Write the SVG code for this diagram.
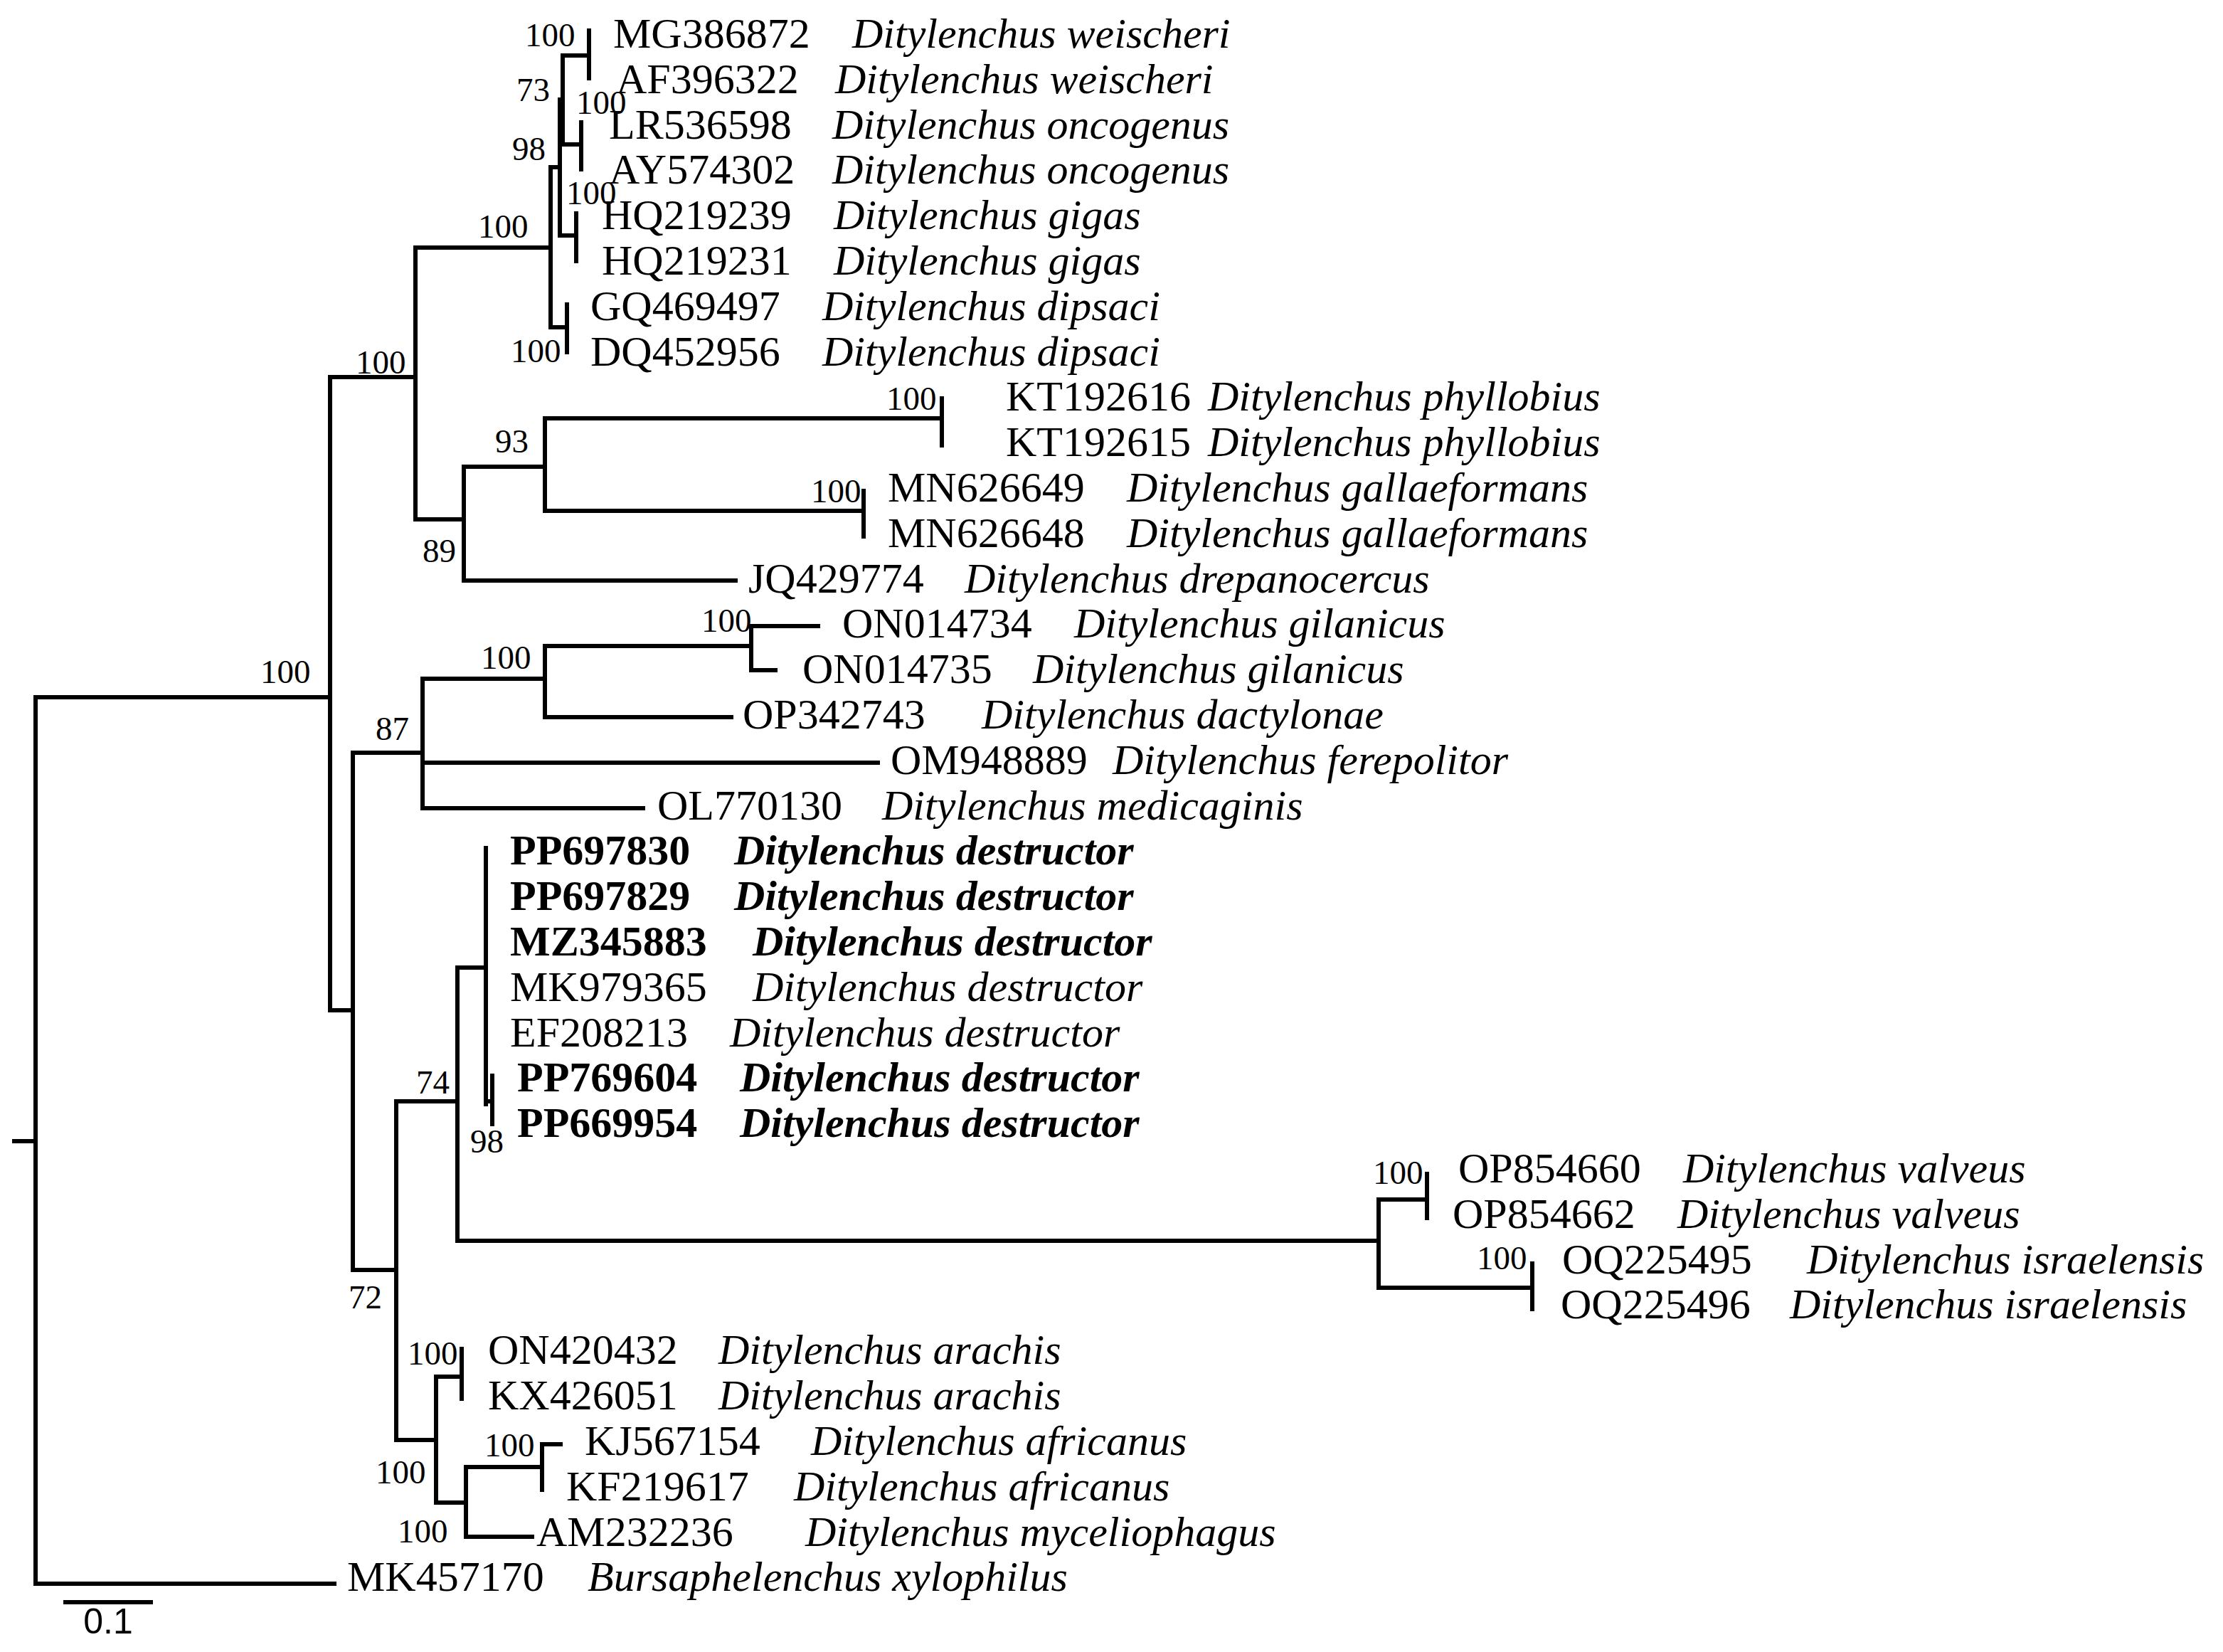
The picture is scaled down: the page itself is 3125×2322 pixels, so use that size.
<svg xmlns="http://www.w3.org/2000/svg" width="3125" height="2322" viewBox="0 0 3125 2322">
<style>
.t{font-family:"Liberation Serif",serif;font-size:60px;fill:#000}
.i{font-style:italic}
.b{font-weight:bold}
.l{font-family:"Liberation Serif",serif;font-size:47px;fill:#000}
.br{fill:none;stroke:#000;stroke-width:6;stroke-linecap:square}
</style>
<rect width="3125" height="2322" fill="#fff"/>
<g id="connectors" class="br">
<path d="M20,1604H50M50,980V2226H470"/>
<path d="M50,980H464M464,530V1420"/>
<path d="M464,530H584M584,348V730"/>
<path d="M584,348H774M774,235V460M774,235H787M787,140V331M787,140H791M791,78V203M791,78H828M828,43V110M791,203H817M817,172V238M787,331H810M810,300V367M774,460H797M797,428V495"/>
<path d="M584,730H652M652,656V816M652,656H766M766,588V718M766,588H1324M1324,560V626M766,718H1214M1214,690V754M652,816H1034"/>
<path d="M464,1420H496M496,1058V1785"/>
<path d="M496,1058H594M594,954V1136M594,954H766M766,908V1008M766,908H1056M1056,880V942M1056,880H1150M1056,942H1090M766,1008H1028M594,1072H1234M594,1136H904"/>
<path d="M496,1785H557M557,1548V2024"/>
<path d="M557,1548H643M643,1360V1744M643,1360H683M683,1192V1552M683,1548H692M692,1512V1580"/>
<path d="M643,1744H1938M1938,1686V1810M1938,1686H2006M2006,1650V1712M1938,1810H2154M2154,1776V1840"/>
<path d="M557,2024H613M613,1935V2112M613,1935H649M649,1896V1966M613,2112H655M655,2062V2160M655,2062H762M762,2030V2094M762,2030H788M655,2160H748"/>
<path d="M92,2252H212"/>
</g>
<g id="support">
<text class="l" x="738" y="65">100</text>
<text class="l" x="726" y="142">73</text>
<text class="l" x="810" y="160">100</text>
<text class="l" x="720" y="225">98</text>
<text class="l" x="796" y="287">100</text>
<text class="l" x="672" y="334">100</text>
<text class="l" x="718" y="509">100</text>
<text class="l" x="500" y="525">100</text>
<text class="l" x="1246" y="576">100</text>
<text class="l" x="1140" y="706">100</text>
<text class="l" x="696" y="636">93</text>
<text class="l" x="594" y="790">89</text>
<text class="l" x="986" y="888">100</text>
<text class="l" x="676" y="940">100</text>
<text class="l" x="528" y="1040">87</text>
<text class="l" x="366" y="960">100</text>
<text class="l" x="585" y="1537">74</text>
<text class="l" x="661" y="1620">98</text>
<text class="l" x="1930" y="1664">100</text>
<text class="l" x="2076" y="1784">100</text>
<text class="l" x="490" y="1839">72</text>
<text class="l" x="573" y="1918">100</text>
<text class="l" x="681" y="2047">100</text>
<text class="l" x="528" y="2085">100</text>
<text class="l" x="559" y="2168">100</text>
<text x="152" y="2296" text-anchor="middle" style="font-family:'Liberation Sans Narrow','Liberation Sans',sans-serif;font-size:50px">0.1</text>
</g>
<g id="tips">
<g id="t0"><text class="t" x="862" y="67">MG386872</text><text class="t i" x="1198" y="67">Ditylenchus weischeri</text></g>
<g id="t1"><text class="t" x="866" y="131">AF396322</text><text class="t i" x="1174" y="131">Ditylenchus weischeri</text></g>
<g id="t2"><text class="t" x="856" y="195">LR536598</text><text class="t i" x="1170" y="195">Ditylenchus oncogenus</text></g>
<g id="t3"><text class="t" x="856" y="258">AY574302</text><text class="t i" x="1170" y="258">Ditylenchus oncogenus</text></g>
<g id="t4"><text class="t" x="846" y="322">HQ219239</text><text class="t i" x="1172" y="322">Ditylenchus gigas</text></g>
<g id="t5"><text class="t" x="846" y="386">HQ219231</text><text class="t i" x="1172" y="386">Ditylenchus gigas</text></g>
<g id="t6"><text class="t" x="830" y="450">GQ469497</text><text class="t i" x="1156" y="450">Ditylenchus dipsaci</text></g>
<g id="t7"><text class="t" x="830" y="514">DQ452956</text><text class="t i" x="1156" y="514">Ditylenchus dipsaci</text></g>
<g id="t8"><text class="t" x="1414" y="577">KT192616</text><text class="t i" x="1698" y="577">Ditylenchus phyllobius</text></g>
<g id="t9"><text class="t" x="1414" y="641">KT192615</text><text class="t i" x="1698" y="641">Ditylenchus phyllobius</text></g>
<g id="t10"><text class="t" x="1248" y="705">MN626649</text><text class="t i" x="1584" y="705">Ditylenchus gallaeformans</text></g>
<g id="t11"><text class="t" x="1248" y="769">MN626648</text><text class="t i" x="1584" y="769">Ditylenchus gallaeformans</text></g>
<g id="t12"><text class="t" x="1052" y="833">JQ429774</text><text class="t i" x="1356" y="833">Ditylenchus drepanocercus</text></g>
<g id="t13"><text class="t" x="1184" y="896">ON014734</text><text class="t i" x="1510" y="896">Ditylenchus gilanicus</text></g>
<g id="t14"><text class="t" x="1128" y="960">ON014735</text><text class="t i" x="1452" y="960">Ditylenchus gilanicus</text></g>
<g id="t15"><text class="t" x="1044" y="1024">OP342743</text><text class="t i" x="1380" y="1024">Ditylenchus dactylonae</text></g>
<g id="t16"><text class="t" x="1252" y="1088">OM948889</text><text class="t i" x="1564" y="1088">Ditylenchus ferepolitor</text></g>
<g id="t17"><text class="t" x="924" y="1152">OL770130</text><text class="t i" x="1240" y="1152">Ditylenchus medicaginis</text></g>
<g id="t18"><text class="t b" x="717" y="1215">PP697830</text><text class="t b i" x="1032" y="1215">Ditylenchus destructor</text></g>
<g id="t19"><text class="t b" x="717" y="1279">PP697829</text><text class="t b i" x="1032" y="1279">Ditylenchus destructor</text></g>
<g id="t20"><text class="t b" x="717" y="1343">MZ345883</text><text class="t b i" x="1058" y="1343">Ditylenchus destructor</text></g>
<g id="t21"><text class="t" x="717" y="1407">MK979365</text><text class="t i" x="1058" y="1407">Ditylenchus destructor</text></g>
<g id="t22"><text class="t" x="717" y="1471">EF208213</text><text class="t i" x="1026" y="1471">Ditylenchus destructor</text></g>
<g id="t23"><text class="t b" x="727" y="1534">PP769604</text><text class="t b i" x="1040" y="1534">Ditylenchus destructor</text></g>
<g id="t24"><text class="t b" x="727" y="1598">PP669954</text><text class="t b i" x="1040" y="1598">Ditylenchus destructor</text></g>
<g id="t25"><text class="t" x="2050" y="1662">OP854660</text><text class="t i" x="2366" y="1662">Ditylenchus valveus</text></g>
<g id="t26"><text class="t" x="2042" y="1726">OP854662</text><text class="t i" x="2358" y="1726">Ditylenchus valveus</text></g>
<g id="t27"><text class="t" x="2196" y="1790">OQ225495</text><text class="t i" x="2540" y="1790">Ditylenchus israelensis</text></g>
<g id="t28"><text class="t" x="2194" y="1853">OQ225496</text><text class="t i" x="2516" y="1853">Ditylenchus israelensis</text></g>
<g id="t29"><text class="t" x="686" y="1917">ON420432</text><text class="t i" x="1010" y="1917">Ditylenchus arachis</text></g>
<g id="t30"><text class="t" x="686" y="1981">KX426051</text><text class="t i" x="1010" y="1981">Ditylenchus arachis</text></g>
<g id="t31"><text class="t" x="822" y="2045">KJ567154</text><text class="t i" x="1140" y="2045">Ditylenchus africanus</text></g>
<g id="t32"><text class="t" x="796" y="2109">KF219617</text><text class="t i" x="1116" y="2109">Ditylenchus africanus</text></g>
<g id="t33"><text class="t" x="754" y="2173">AM232236</text><text class="t i" x="1132" y="2173">Ditylenchus myceliophagus</text></g>
<g id="t34"><text class="t" x="488" y="2236">MK457170</text><text class="t i" x="826" y="2236">Bursaphelenchus xylophilus</text></g>
</g>
</svg>
